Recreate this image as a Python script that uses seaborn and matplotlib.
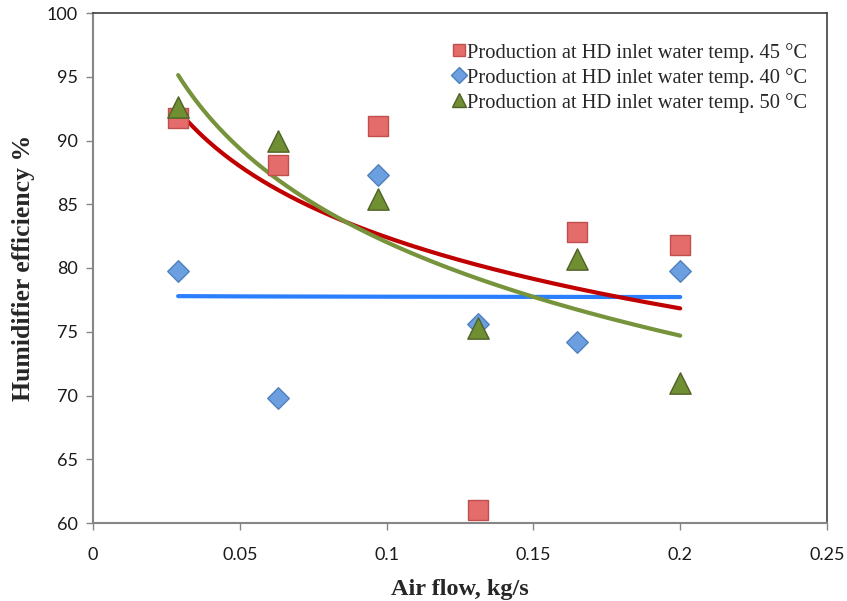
import numpy as np
import pandas as pd
import matplotlib
matplotlib.use("Agg")
import matplotlib.pyplot as plt
import seaborn as sns
from matplotlib.lines import Line2D

# ---- data ----
air_flow = [0.029, 0.063, 0.097, 0.131, 0.165, 0.200]
eff_45 = [91.8, 88.1, 91.1, 61.0, 82.8, 81.8]
eff_40 = [79.8, 69.8, 87.3, 75.6, 74.2, 79.8]
eff_50 = [92.6, 90.0, 85.4, 75.3, 80.7, 71.0]

labels = [
    "Production at HD inlet water temp. 45 °C",
    "Production at HD inlet water temp. 40 °C",
    "Production at HD inlet water temp. 50 °C",
]
series = [eff_45, eff_40, eff_50]

x_ticks = [0, 0.05, 0.1, 0.15, 0.2, 0.25]
x_ticklabels = ["0", "0.05", "0.1", "0.15", "0.2", "0.25"]
y_ticks = [60, 65, 70, 75, 80, 85, 90, 95, 100]

# ---- styles ----
marker_face = ["#E46C6A", "#6C9FE0", "#6F8F32"]
marker_edge = ["#C0504D", "#4F81BD", "#4F6228"]
markers = ["s", "D", "^"]
msizes = [225, 120, 235]
line_colors = ["#C00000", "#2A7FFF", "#77933C"]

rows = []
for lab, ys in zip(labels, series):
    for x, y in zip(air_flow, ys):
        rows.append({"x": x, "y": y, "series": lab})
df = pd.DataFrame(rows)

# logarithmic trend lines (as Excel log trendline)
trend_rows = []
xs = np.linspace(min(air_flow), max(air_flow), 200)
for lab, ys in zip(labels, series):
    b, a = np.polyfit(np.log(air_flow), ys, 1)
    for xv in xs:
        trend_rows.append({"x": xv, "y": a + b * np.log(xv), "series": lab})
tdf = pd.DataFrame(trend_rows)

sns.set_style("white")
fig = plt.figure(figsize=(8.47, 6.01), dpi=100)
ax = fig.add_axes([93 / 847, 78 / 601, 734 / 847, 510 / 601])

# draw trend lines order: blue, red, green
for i in [1, 0, 2]:
    sub = tdf[tdf["series"] == labels[i]]
    sns.lineplot(data=sub, x="x", y="y", ax=ax, color=line_colors[i],
                 linewidth=3.0, legend=False, zorder=2, sort=True,
                 solid_capstyle="round")

# markers: order 45, 40, 50 -> triangles on top
for i in [0, 1, 2]:
    sub = df[df["series"] == labels[i]]
    sns.scatterplot(data=sub, x="x", y="y", ax=ax, marker=markers[i],
                    s=msizes[i], color=marker_face[i], edgecolor=marker_edge[i],
                    linewidth=1.0, legend=False, zorder=3 + i)

ax.set_xlim(0, 0.25)
ax.set_ylim(60, 100)
ax.set_xticks(x_ticks)
ax.set_xticklabels(x_ticklabels)
ax.set_yticks(y_ticks)

tick_font = "Lato"
for t in ax.get_xticklabels() + ax.get_yticklabels():
    t.set_fontfamily(tick_font)
    t.set_fontsize(13)
    t.set_color("#1a1a1a")

ax.tick_params(axis="both", direction="out", length=5, width=1, color="#868686",
               bottom=True, left=True, pad=6)
ax.tick_params(axis="x", pad=12)

for s in ["left", "bottom"]:
    ax.spines[s].set_color("#868686")
    ax.spines[s].set_linewidth(1.5)
for s in ["top", "right"]:
    ax.spines[s].set_color("#404040")
    ax.spines[s].set_linewidth(1.2)

ax.set_xlabel("Air flow, kg/s", fontfamily="Liberation Serif", fontweight="bold",
              fontsize=17.5, labelpad=12)
ax.set_ylabel("Humidifier efficiency %", fontfamily="Liberation Serif",
              fontweight="bold", fontsize=18.5, labelpad=8)

handles = [
    Line2D([], [], linestyle="none", marker=markers[i], markersize=ms,
           markerfacecolor=marker_face[i], markeredgecolor=marker_edge[i])
    for i, ms in zip(range(3), [9, 8, 10])
]
leg = ax.legend(handles, labels, loc="upper right", bbox_to_anchor=(0.993, 0.97),
                frameon=False, handlelength=0.6, handletextpad=0.1,
                labelspacing=0.25, borderaxespad=0.3,
                prop={"family": "Liberation Serif", "size": 14.8})

fig.savefig("out.png", dpi=100)
